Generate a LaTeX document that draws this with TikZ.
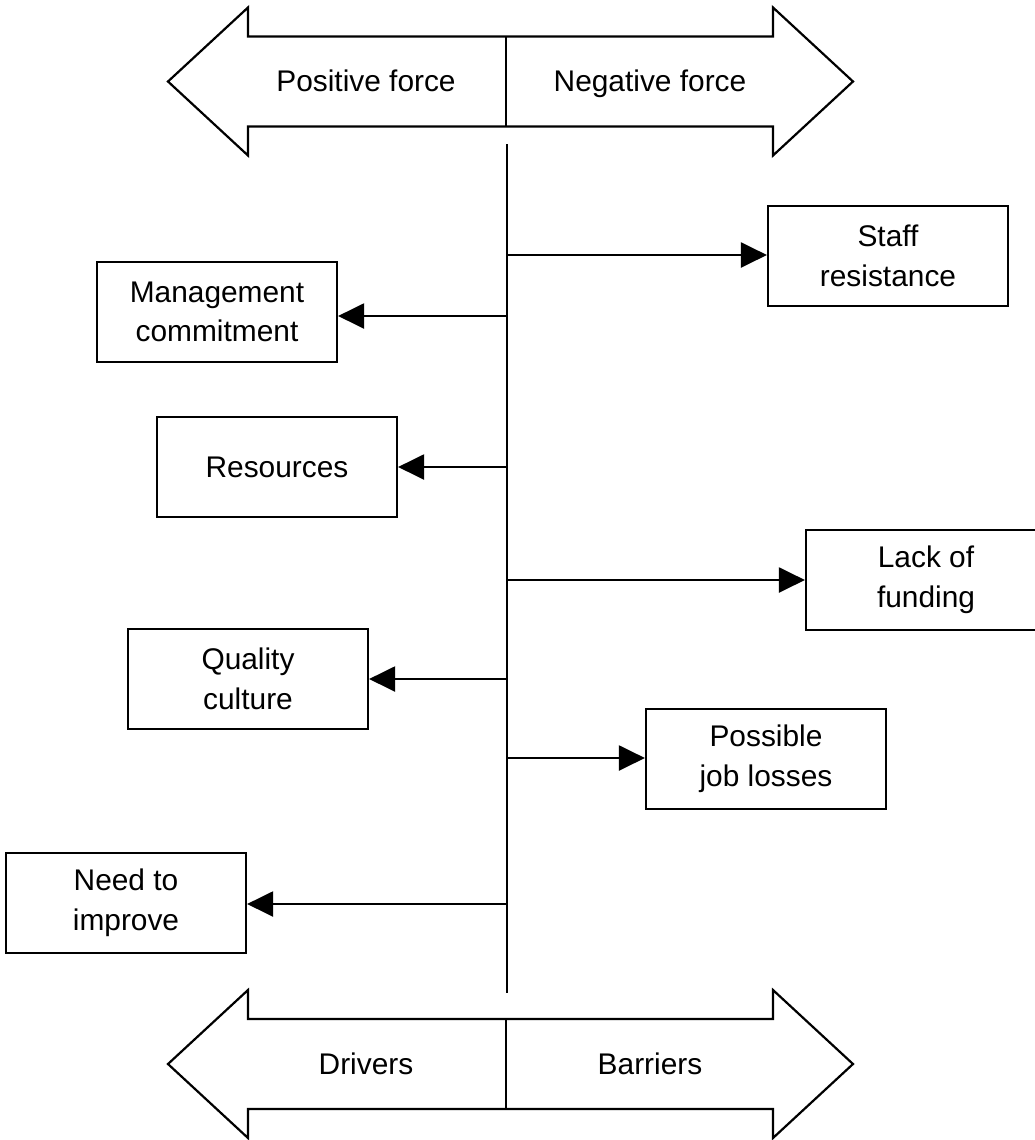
\documentclass[tikz,border=0pt]{standalone}
\usepackage{fontspec}
\setmainfont{Liberation Sans}
\usetikzlibrary{arrows.meta}

\tikzset{
  factor/.style={draw, minimum width=4.8cm, minimum height=2cm, align=center},
  push/.style={-{Triangle[length=0.52cm,width=0.5cm]}},
}

\begin{document}
\begin{tikzpicture}[x=0.02cm, y=-0.02cm, line width=1.25pt, font=\fontsize{17}{22.5}\selectfont]
      \useasboundingbox (0,0) rectangle (1035,1140);

      % the two wide double arrows
      \foreach \y/\l/\r/\n in {81.5/Positive force/Negative force/force, 1064/Drivers/Barriers/kind} {
          \draw (168,\y) -- (248,\y-74) -- (248,\y-45) -- (773,\y-45) -- (773,\y-74) -- (853,\y)
            -- (773,\y+74) -- (773,\y+45) -- (248,\y+45) -- (248,\y+74) -- cycle;
          \draw (506,\y-45) -- (506,\y+45);
          \node[anchor=base] (\n-left) at (366,\y+10) {\l};
          \node[anchor=base] (\n-right) at (650,\y+10) {\r};
        }

      % spine
      \coordinate (s0) at (507,144);
      \coordinate (s1) at (507,993);
      \draw (s0) -- (s1);

      \node[factor] (mgmt) at (217,312) {Management\\commitment};
      \node[factor] (res) at (277,467) {Resources};
      \node[factor] (qual) at (248,679) {Quality\\culture};
      \node[factor] (need) at (126,903) {Need to\\improve};
      \node[factor] (staff) at (888,256) {Staff\\resistance};
      \node[factor] (fund) at (926,580) {Lack of\\funding};
      \node[factor] (jobs) at (766,759) {Possible\\job losses};

      \foreach \b/\y/\s in {staff/255/west, mgmt/316/east, res/467/east, fund/580/west,
                            qual/679/east, jobs/758/west, need/904/east} {
          \coordinate (\b-root) at (507,\y);
          \draw[push] (\b-root) -- (\b-root -| \b.\s);
        }
\end{tikzpicture}
\end{document}
